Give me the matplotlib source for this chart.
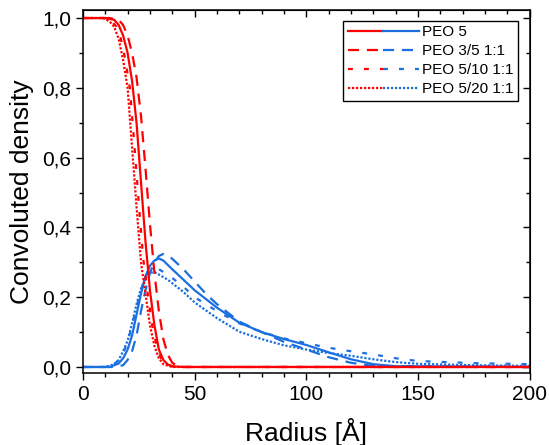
import matplotlib.pyplot as plt
from matplotlib.ticker import MultipleLocator, FuncFormatter
from matplotlib.legend_handler import HandlerTuple

plt.rcParams["font.family"] = ["Liberation Sans", "DejaVu Sans"]

RED = "#ff0000"
BLUE = "#1b6fe0"

# red (step-like) profiles
r_red_peo5 = [0, 10, 14, 16, 18, 20, 22, 24, 26, 28, 30, 32, 34, 36, 38, 40, 45, 50, 200]
v_red_peo5 = [1, 1, 0.995, 0.98, 0.95, 0.9, 0.82, 0.7, 0.53, 0.36, 0.22, 0.12, 0.05, 0.02, 0.007, 0.002, 0, 0, 0]

r_red_35 = [0, 12, 16, 18, 20, 22, 24, 26, 28, 30, 32, 34, 36, 38, 40, 42, 45, 50, 200]
v_red_35 = [1, 1, 0.995, 0.98, 0.95, 0.9, 0.83, 0.72, 0.57, 0.41, 0.27, 0.16, 0.08, 0.035, 0.012, 0.004, 0, 0, 0]

r_red_510 = [0, 10, 13, 15, 17, 19, 21, 23, 25, 27, 29, 31, 33, 35, 37, 41, 46, 200]
v_red_510 = [1, 1, 0.99, 0.975, 0.94, 0.88, 0.8, 0.64, 0.47, 0.31, 0.21, 0.12, 0.06, 0.025, 0.008, 0, 0, 0]

r_red_520 = [0, 9, 12, 14, 16, 18, 20, 22, 24, 26, 28, 30, 32, 34, 36, 40, 45, 200]
v_red_520 = [1, 1, 0.99, 0.975, 0.94, 0.88, 0.8, 0.63, 0.46, 0.3, 0.21, 0.12, 0.06, 0.025, 0.008, 0, 0, 0]

# blue (peaked) profiles
r_blue_peo5 = [0, 12, 16, 18, 20, 22, 24, 26, 28, 30, 32, 34, 36, 40, 45, 50, 60, 70, 80, 90, 100, 110, 120, 130, 140, 200]
v_blue_peo5 = [0, 0, 0.01, 0.025, 0.05, 0.09, 0.15, 0.21, 0.26, 0.29, 0.305, 0.311, 0.305, 0.28, 0.25, 0.22, 0.17,
               0.127, 0.1, 0.08, 0.063, 0.042, 0.022, 0.008, 0.002, 0]

r_blue_35 = [0, 14, 18, 20, 22, 24, 26, 28, 30, 32, 34, 36, 38, 40, 45, 50, 55, 60, 65, 70, 80, 90, 100, 110, 120, 130, 200]
v_blue_35 = [0, 0, 0.005, 0.02, 0.045, 0.09, 0.16, 0.22, 0.27, 0.3, 0.318, 0.324, 0.32, 0.31, 0.28, 0.245, 0.21,
             0.18, 0.155, 0.13, 0.1, 0.072, 0.05, 0.028, 0.012, 0.003, 0]

r_blue_510 = [0, 10, 14, 16, 18, 20, 22, 24, 26, 28, 30, 32, 34, 38, 45, 50, 60, 70, 80, 90, 100, 110, 120, 130, 140, 150, 175, 200]
v_blue_510 = [0, 0, 0.008, 0.02, 0.04, 0.07, 0.12, 0.17, 0.22, 0.26, 0.28, 0.284, 0.28, 0.265, 0.23, 0.2, 0.16,
              0.125, 0.1, 0.082, 0.068, 0.055, 0.045, 0.036, 0.025, 0.017, 0.011, 0.008]

r_blue_520 = [0, 10, 14, 16, 18, 20, 22, 24, 26, 28, 30, 32, 34, 38, 45, 50, 60, 70, 80, 90, 100, 110, 120, 130, 140, 150, 175, 200]
v_blue_520 = [0, 0, 0.008, 0.02, 0.045, 0.075, 0.125, 0.18, 0.225, 0.255, 0.27, 0.272, 0.265, 0.25, 0.215, 0.185,
              0.14, 0.101, 0.08, 0.062, 0.05, 0.04, 0.032, 0.022, 0.014, 0.009, 0.005, 0.003]

labels = ["PEO 5", "PEO 3/5 1:1", "PEO 5/10 1:1", "PEO 5/20 1:1"]
styles = ["-", (0, (5, 3.5)), (0, (2.2, 5)), (0, (1, 0.8))]

red_series = [(r_red_peo5, v_red_peo5), (r_red_35, v_red_35), (r_red_510, v_red_510), (r_red_520, v_red_520)]
blue_series = [(r_blue_peo5, v_blue_peo5), (r_blue_35, v_blue_35), (r_blue_510, v_blue_510), (r_blue_520, v_blue_520)]

fig = plt.figure(figsize=(5.49, 4.45), dpi=100)
ax = fig.add_axes([0.151, 0.162, 0.814, 0.8155])

lw = 1.6
blue_lines = []
for (r, v), ls in zip(blue_series, styles):
    line, = ax.plot(r, v, color=BLUE, lw=lw, linestyle=ls)
    blue_lines.append(line)
red_lines = []
for (r, v), ls in zip(red_series, styles):
    line, = ax.plot(r, v, color=RED, lw=lw, linestyle=ls)
    red_lines.append(line)

handles = [(rl, bl) for rl, bl in zip(red_lines, blue_lines)]

leg = ax.legend(handles, labels, handler_map={tuple: HandlerTuple(ndivide=None, pad=0)},
                loc="upper right", bbox_to_anchor=(0.973, 0.970), fontsize=11,
                handlelength=4.7, handletextpad=0.15, labelspacing=0.32,
                borderpad=0.3, borderaxespad=0, fancybox=False, framealpha=1)
leg.get_frame().set_edgecolor("black")
leg.get_frame().set_linewidth(1.0)
leg.set_zorder(5)

ax.set_xlim(0, 200)
ax.set_ylim(-0.017, 1.023)
ax.xaxis.set_major_locator(MultipleLocator(50))
ax.xaxis.set_minor_locator(MultipleLocator(10))
ax.yaxis.set_major_locator(MultipleLocator(0.2))
ax.yaxis.set_minor_locator(MultipleLocator(0.1))
ax.yaxis.set_major_formatter(FuncFormatter(lambda y, p: f"{y:.1f}".replace(".", ",")))

for s in ax.spines.values():
    s.set_linewidth(1.1)
ax.tick_params(which="both", direction="out", width=1.0, labelsize=15, top=False, right=False)
ax.tick_params(which="major", length=5)
ax.tick_params(which="minor", length=3)

sec_x = ax.secondary_xaxis("top")
sec_x.xaxis.set_major_locator(MultipleLocator(50))
sec_x.xaxis.set_minor_locator(MultipleLocator(10))
sec_x.tick_params(which="both", direction="in", labeltop=False, width=1.0)
sec_x.tick_params(which="major", length=5)
sec_x.tick_params(which="minor", length=3)
sec_y = ax.secondary_yaxis("right")
sec_y.yaxis.set_major_locator(MultipleLocator(0.2))
sec_y.yaxis.set_minor_locator(MultipleLocator(0.1))
sec_y.tick_params(which="both", direction="in", labelright=False, width=1.0)
sec_y.tick_params(which="major", length=5)
sec_y.tick_params(which="minor", length=3)

ax.set_xlabel("Radius [Å]", fontsize=19, labelpad=10)
ax.set_ylabel("Convoluted density", fontsize=19, labelpad=6)

fig.savefig("out.png", dpi=100)
